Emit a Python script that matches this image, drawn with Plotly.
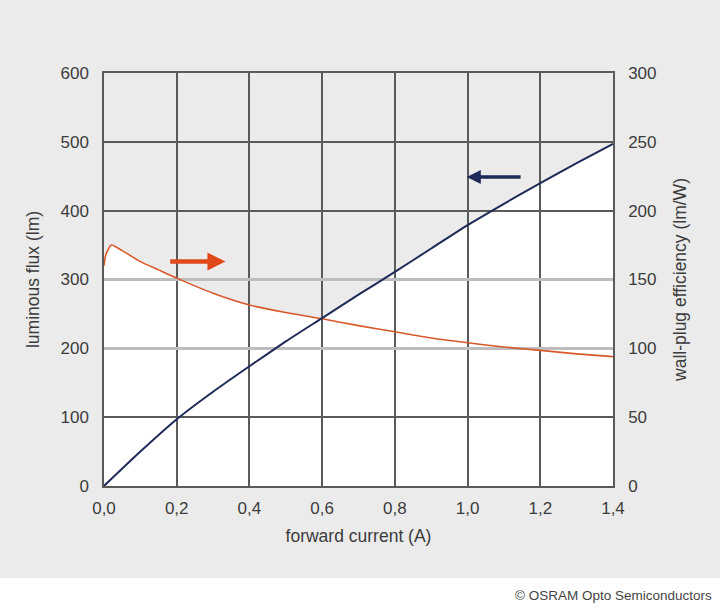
import plotly.graph_objects as go

# forward current (A)
current = [0.0, 0.1, 0.2, 0.3, 0.4, 0.5, 0.6, 0.7, 0.8, 0.9, 1.0, 1.1, 1.2, 1.3, 1.4]
# luminous flux (lm)
flux = [0, 50, 97, 137, 174, 210, 244, 278, 311, 345, 379, 410, 440, 469, 497]

# wall-plug efficiency (lm/W)
eff_current = [0.0, 0.005, 0.02, 0.05, 0.1, 0.15, 0.2, 0.3, 0.4, 0.5, 0.6, 0.7, 0.8, 0.9, 1.0, 1.1, 1.2, 1.3, 1.4]
efficiency = [160, 168, 175, 171, 163, 157, 151, 140, 131.5, 126, 121.5, 116.5, 112, 107.5, 104, 101, 98.5, 96, 94]

x_ticks = [0.0, 0.2, 0.4, 0.6, 0.8, 1.0, 1.2, 1.4]
y_ticks = [0, 100, 200, 300, 400, 500, 600]
y2_ticks = [0, 50, 100, 150, 200, 250, 300]
light_grid = [200, 300]

BG = "#ebebeb"
GRID = "#5a5a5a"
BLUE = "#1e2a58"
ORANGE = "#d9582a"
TXT = "#3c3c3c"
FONT = "Liberation Sans, Arial, sans-serif"
TICK_SIZE = 17
TITLE_SIZE = 17.5


def area_path(xs, ys):
    pts = [f"L {x},{y}" for x, y in zip(xs, ys)]
    return f"M {xs[0]},0 " + " ".join(pts) + f" L {xs[-1]},0 Z"


fig = go.Figure()

fig.add_trace(go.Scatter(x=eff_current, y=efficiency, mode="lines", yaxis="y2",
                         line=dict(color=ORANGE, width=1.6, shape="spline", smoothing=0.5),
                         hoverinfo="skip", showlegend=False))
fig.add_trace(go.Scatter(x=current, y=flux, mode="lines", yaxis="y3",
                         line=dict(color=BLUE, width=2, shape="spline", smoothing=0.6),
                         hoverinfo="skip", showlegend=False))

shapes = [
    dict(type="path", path=area_path(current, flux), xref="x", yref="y",
         fillcolor="white", line=dict(width=0), layer="below"),
    dict(type="path", path=area_path(eff_current, efficiency), xref="x", yref="y2",
         fillcolor="white", line=dict(width=0), layer="below"),
    dict(type="rect", xref="paper", yref="paper", x0=-0.3, x1=1.3, y0=-0.32, y1=-0.2228,
         fillcolor="white", line=dict(width=0), layer="below"),
]

annotations = [
    dict(x=0.334, y=326, ax=0.178, ay=326, xref="x", yref="y", axref="x", ayref="y",
         text="", showarrow=True, arrowhead=2, arrowsize=0.8, arrowwidth=4.5,
         arrowcolor="#e0481a"),
    dict(x=0.998, y=449, ax=1.15, ay=449, xref="x", yref="y", axref="x", ayref="y",
         text="", showarrow=True, arrowhead=2, arrowsize=0.8, arrowwidth=3.5,
         arrowcolor=BLUE),
    dict(x=1.198, y=-0.264, xref="paper", yref="paper", xanchor="right", yanchor="middle",
         text="© OSRAM Opto Semiconductors", showarrow=False,
         font=dict(size=13.5, color="#444444", family=FONT)),
]

axis_common = dict(showline=True, linecolor=GRID, linewidth=1.5,
                   zeroline=False, tickfont=dict(size=TICK_SIZE, color=TXT, family=FONT),
                   ticks="outside", tickcolor="rgba(0,0,0,0)")

fig.update_layout(
    width=720, height=608,
    margin=dict(l=104, r=107, t=73, b=122),
    paper_bgcolor=BG, plot_bgcolor=BG,
    separators=",.",
    font=dict(family=FONT, color=TXT),
    shapes=shapes, annotations=annotations,
    xaxis=dict(range=[0, 1.4], tickvals=x_ticks, tickformat=".1f",
               showgrid=True, gridcolor=GRID, gridwidth=1.5, ticklen=6,
               mirror=True,
               title=dict(text="forward current (A)", standoff=13,
                          font=dict(size=TITLE_SIZE, color=TXT)),
               **axis_common),
    yaxis=dict(range=[0, 600], tickvals=y_ticks, showgrid=True, gridcolor=GRID,
               gridwidth=1.5, ticklen=10, mirror=True,
               title=dict(text="luminous flux (lm)", standoff=16,
                          font=dict(size=TITLE_SIZE, color=TXT)),
               **axis_common),
    yaxis2=dict(range=[0, 300], tickvals=y2_ticks, overlaying="y", side="right",
                showgrid=False, ticklen=10,
                title=dict(text="wall-plug efficiency (lm/W)", standoff=18,
                           font=dict(size=TITLE_SIZE, color=TXT)),
                **axis_common),
    yaxis3=dict(range=[0, 600], overlaying="y", tickvals=light_grid, showgrid=True,
                gridcolor="#bdbdbd", gridwidth=3, showticklabels=False, ticks="",
                showline=False, zeroline=False),
)

fig.write_html("out.html", config={"displayModeBar": False},
               post_script="document.body.style.margin='0';")
